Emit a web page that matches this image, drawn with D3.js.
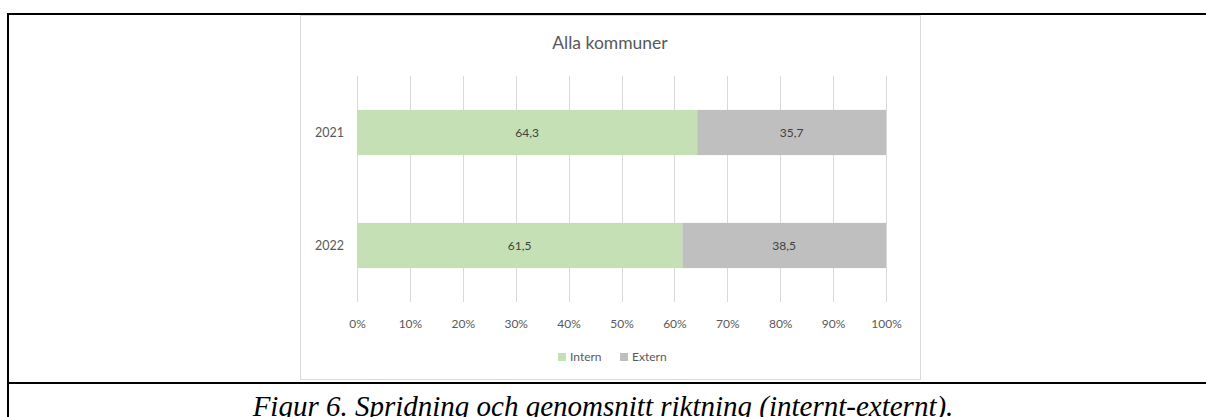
<!DOCTYPE html>
<html>
<head>
<meta charset="utf-8">
<script src="https://cdn.jsdelivr.net/npm/d3@7"></script>
<style>
  body { margin: 0; background: #fff; }
  svg { display: block; }
  .chart-text { font-family: Lato, "Open Sans", sans-serif; fill: #595959; }
</style>
</head>
<body>
<div id="chart"></div>
<script>
// chart data
const categories = ['2021', '2022'];
const internValues = [64.3, 61.5];
const externValues = [35.7, 38.5];
const seriesNames = ['Intern', 'Extern'];
const seriesColors = ['#C5E0B4', '#BFBFBF'];
const xTicks = [0, 10, 20, 30, 40, 50, 60, 70, 80, 90, 100];
const chartTitle = 'Alla kommuner';
const caption = 'Figur 6. Spridning och genomsnitt riktning (internt-externt).';

const W = 1206, H = 417;

const svg = d3.select('#chart')
    .append('svg')
    .attr('width', W)
    .attr('height', H);

// outer document frame (table cell borders)
const frame = svg.append('g').attr('stroke', '#000').attr('stroke-width', 2);
frame.append('line').attr('x1', 8).attr('x2', W).attr('y1', 14).attr('y2', 14);
frame.append('line').attr('x1', 8).attr('x2', 8).attr('y1', 13).attr('y2', H);
frame.append('line').attr('x1', 8).attr('x2', W).attr('y1', 383).attr('y2', 383);

// chart area box
svg.append('rect')
    .attr('x', 300.5).attr('y', 15.5)
    .attr('width', 620).attr('height', 364)
    .attr('fill', '#fff')
    .attr('stroke', '#D9D9D9')
    .attr('stroke-width', 1);

svg.append('text')
    .attr('class', 'chart-text')
    .attr('x', 610).attr('y', 49)
    .attr('text-anchor', 'middle')
    .style('font-size', '17.5px')
    .text(chartTitle);

const plot = { left: 357, right: 886, top: 76, bottom: 302 };

const xScale = d3.scaleLinear()
    .domain([0, 100])
    .range([plot.left, plot.right]);

const yScale = d3.scaleBand()
    .domain(categories)
    .range([plot.top, plot.bottom])
    .paddingInner(0.6)
    .paddingOuter(0.3);

// gridlines
svg.append('g')
    .selectAll('line')
    .data(xTicks)
    .join('line')
    .attr('x1', d => Math.round(xScale(d)) + 0.5)
    .attr('x2', d => Math.round(xScale(d)) + 0.5)
    .attr('y1', plot.top)
    .attr('y2', plot.bottom)
    .attr('stroke', '#D9D9D9')
    .attr('stroke-width', 1);

// x axis labels
const xAxis = svg.append('g')
    .attr('transform', `translate(0,${plot.bottom + 22})`)
    .call(d3.axisBottom(xScale).tickValues(xTicks).tickSize(0).tickPadding(0).tickFormat(d => d + '%'));
xAxis.select('.domain').remove();
xAxis.selectAll('text')
    .attr('class', 'chart-text')
    .attr('dy', '0.35em')
    .style('font-size', '12px');

// y axis labels
const yAxis = svg.append('g')
    .attr('transform', `translate(${plot.left - 13},0)`)
    .call(d3.axisLeft(yScale).tickSize(0).tickPadding(0));
yAxis.select('.domain').remove();
yAxis.selectAll('text')
    .attr('class', 'chart-text')
    .style('font-size', '12.5px');

// stacked bars
const rows = categories.map((c, i) => ({ cat: c, values: [internValues[i], externValues[i]] }));
const stacked = d3.stack().keys([0, 1]).value((d, k) => d.values[k])(rows);

const layers = svg.append('g')
    .selectAll('g')
    .data(stacked)
    .join('g')
    .attr('fill', (d, i) => seriesColors[i]);

layers.selectAll('rect')
    .data(d => d)
    .join('rect')
    .attr('x', d => xScale(d[0]))
    .attr('y', d => yScale(d.data.cat))
    .attr('width', d => xScale(d[1]) - xScale(d[0]))
    .attr('height', yScale.bandwidth());

layers.selectAll('text')
    .data(d => d)
    .join('text')
    .attr('class', 'chart-text')
    .attr('x', d => (xScale(d[0]) + xScale(d[1])) / 2)
    .attr('y', d => yScale(d.data.cat) + yScale.bandwidth() / 2)
    .attr('dy', '0.35em')
    .attr('text-anchor', 'middle')
    .style('fill', '#404040')
    .style('font-size', '12px')
    .text(d => d3.format('.1f')(d[1] - d[0]).replace('.', ','));

// legend
const legend = svg.append('g').attr('transform', 'translate(558,357)');
const legendX = [0, 62];
seriesNames.forEach((name, i) => {
    const item = legend.append('g').attr('transform', `translate(${legendX[i]},0)`);
    item.append('rect')
        .attr('x', 0).attr('y', -4)
        .attr('width', 8).attr('height', 8)
        .attr('fill', seriesColors[i]);
    item.append('text')
        .attr('class', 'chart-text')
        .attr('x', 12).attr('y', 0)
        .attr('dy', '0.35em')
        .style('font-size', '12px')
        .text(name);
});

// figure caption (cut by the bottom edge, as in the source)
svg.append('text')
    .attr('x', 603).attr('y', 416)
    .attr('text-anchor', 'middle')
    .style('font-family', '"Liberation Serif", "Times New Roman", serif')
    .style('font-style', 'italic')
    .style('font-size', '29px')
    .style('fill', '#000')
    .text(caption);
</script>
</body>
</html>
